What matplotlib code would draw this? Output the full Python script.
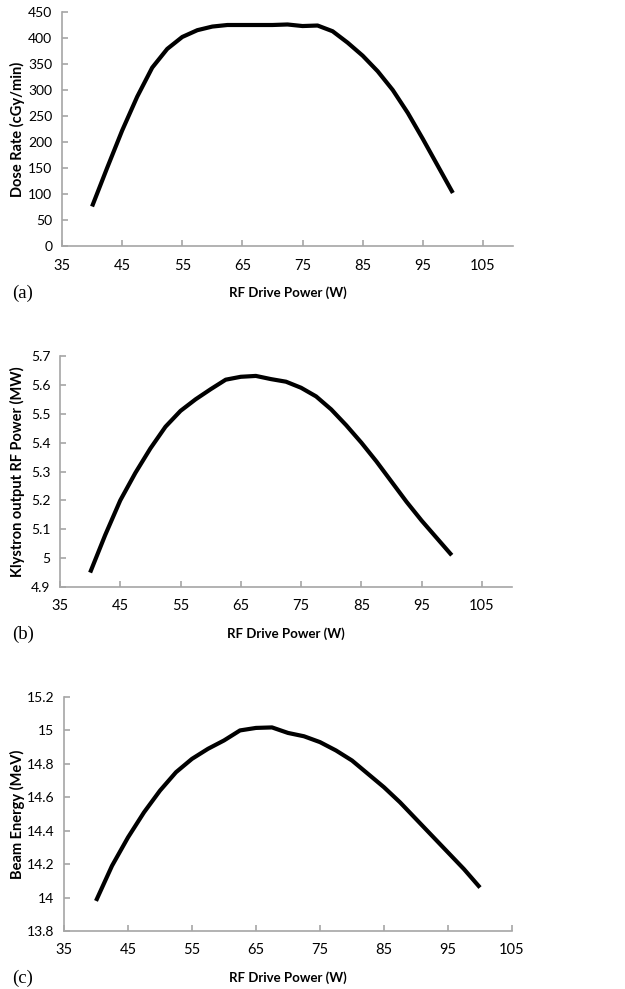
import matplotlib
matplotlib.use("Agg")
import matplotlib.pyplot as plt

# RF drive power (W), read at 2.5 W steps
drive_power = [40, 42.5, 45, 47.5, 50, 52.5, 55, 57.5, 60, 62.5, 65, 67.5, 70,
               72.5, 75, 77.5, 80, 82.5, 85, 87.5, 90, 92.5, 95, 97.5, 100]

dose_rate = [76, 150, 222, 287, 343, 379, 402, 415, 422, 425, 425, 425, 425,
             426, 423, 424, 413, 391, 366, 336, 300, 256, 206, 154, 102]

klystron_power = [4.95, 5.08, 5.20, 5.295, 5.38, 5.455, 5.51, 5.55, 5.585, 5.618,
                  5.628, 5.631, 5.62, 5.611, 5.59, 5.56, 5.515, 5.46, 5.40, 5.335,
                  5.265, 5.195, 5.13, 5.07, 5.01]

beam_energy = [13.98, 14.19, 14.36, 14.51, 14.64, 14.75, 14.83, 14.89, 14.94, 15.00,
               15.015, 15.018, 14.985, 14.965, 14.93, 14.88, 14.82, 14.74, 14.66,
               14.57, 14.47, 14.37, 14.27, 14.17, 14.06]

x_ticks = [35, 45, 55, 65, 75, 85, 95, 105]

W, H = 625, 989

panels = [
    # (values, ylabel, ylim, yticks, yticklabels, xmax, left/right/top/bottom px, tag, label row y px)
    (dose_rate, "Dose Rate (cGy/min)", (0, 450),
     [0, 50, 100, 150, 200, 250, 300, 350, 400, 450], None, 110,
     (62, 513, 12, 246), "(a)", 293),
    (klystron_power, "Klystron output RF Power (MW)", (4.9, 5.7),
     [4.9, 5.0, 5.1, 5.2, 5.3, 5.4, 5.5, 5.6, 5.7],
     ["4.9", "5", "5.1", "5.2", "5.3", "5.4", "5.5", "5.6", "5.7"], 110,
     (60, 512, 356, 587), "(b)", 634),
    (beam_energy, "Beam Energy (MeV)", (13.8, 15.2),
     [13.8, 14.0, 14.2, 14.4, 14.6, 14.8, 15.0, 15.2],
     ["13.8", "14", "14.2", "14.4", "14.6", "14.8", "15", "15.2"], 105,
     (64, 512, 697, 931), "(c)", 978),
]

fig = plt.figure(figsize=(W / 100, H / 100), dpi=100)
axis_grey = "#a6a6a6"
tick_font = "Lato"

for values, ylabel, ylim, yticks, ylabels, xmax, box, tag, row_y in panels:
    l, r, t, b = box
    ax = fig.add_axes([l / W, 1 - b / H, (r - l) / W, (b - t) / H])
    ax.plot(drive_power, values, color="black", lw=3, solid_capstyle="butt",
            solid_joinstyle="round", clip_on=False)
    ax.set_xlim(35, xmax)
    ax.set_ylim(*ylim)
    ax.set_xticks(x_ticks)
    ax.set_yticks(yticks)
    if ylabels is not None:
        ax.set_yticklabels(ylabels)
    for side in ["top", "right"]:
        ax.spines[side].set_visible(False)
    for side in ["left", "bottom"]:
        ax.spines[side].set_color(axis_grey)
        ax.spines[side].set_linewidth(1.2)
    ax.tick_params(direction="in", length=4, width=1.2, color=axis_grey,
                   labelsize=10.5, labelcolor="black")
    ax.tick_params(axis="x", pad=9)
    ax.tick_params(axis="y", pad=7, labelsize=10)
    for lab in ax.get_xticklabels() + ax.get_yticklabels():
        lab.set_fontfamily(tick_font)
    ax.set_xlabel("RF Drive Power (W)", fontsize=9.5, fontweight="bold",
                  fontfamily=tick_font, va="center")
    ax.xaxis.set_label_coords(0.5, (b - row_y) / (b - t))
    ax.set_ylabel(ylabel, fontsize=10.5, fontweight="bold",
                  fontfamily=tick_font, va="center")
    ax.yaxis.set_label_coords((17 - l) / (r - l), 0.5)
    fig.text(12 / W, 1 - row_y / H, tag, fontsize=13.5,
             fontfamily="Liberation Serif", va="center", ha="left")

fig.savefig("out.png", dpi=100)
